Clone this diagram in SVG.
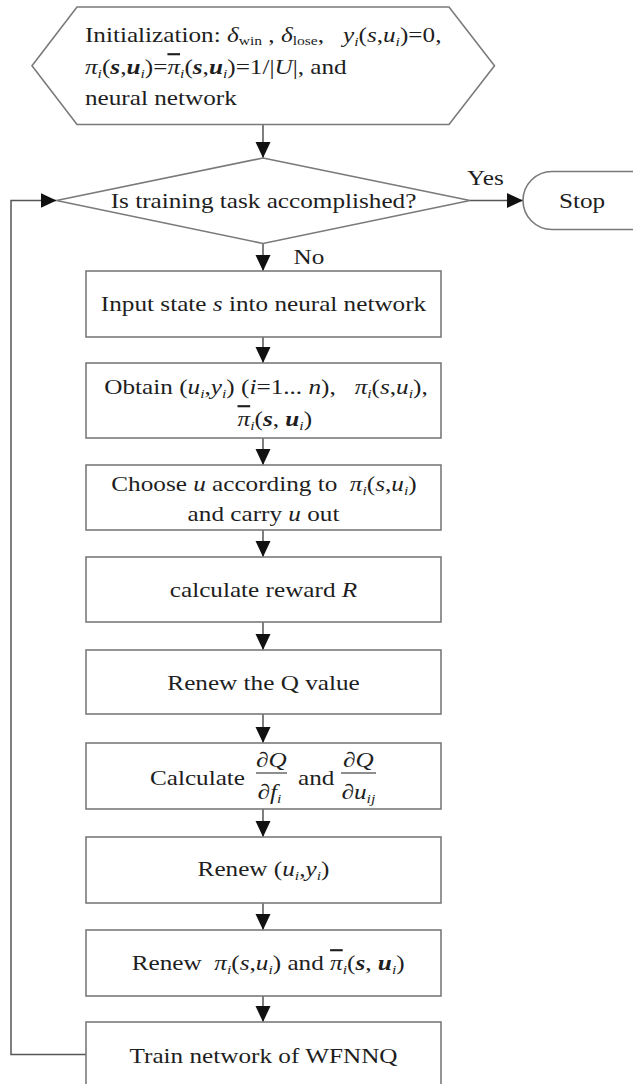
<svg xmlns="http://www.w3.org/2000/svg" width="633" height="1084" viewBox="0 0 633 1084">
<defs>
<style>
.t{font-family:"Liberation Serif","Times New Roman",serif;font-size:21px;fill:#1e1e1e;white-space:pre}
.i{font-style:italic}
.b{font-weight:bold;font-style:italic}
.s{font-size:13px}
.ob{text-decoration:overline}
.node{fill:#fff;stroke:#7a7a7a;stroke-width:1.6}
.conn{fill:none;stroke:#555;stroke-width:1.5}
</style>
<marker id="ah" markerUnits="userSpaceOnUse" markerWidth="18" markerHeight="18" refX="16" refY="7.5" orient="auto">
<path d="M0,0 L16,7.5 L0,15 z" fill="#111"/>
</marker>
</defs>
<rect width="633" height="1084" fill="#fff"/>
<g id="connectors">
<path class="conn" d="M263,124.5 V158" marker-end="url(#ah)"/>
<path class="conn" d="M263,243.5 V271" marker-end="url(#ah)"/>
<path class="conn" d="M470,200.5 H523" marker-end="url(#ah)"/>
<path class="conn" d="M263,337 V363" marker-end="url(#ah)"/>
<path class="conn" d="M263,438 V465" marker-end="url(#ah)"/>
<path class="conn" d="M263,530 V557" marker-end="url(#ah)"/>
<path class="conn" d="M263,622 V650" marker-end="url(#ah)"/>
<path class="conn" d="M263,714 V743" marker-end="url(#ah)"/>
<path class="conn" d="M263,809 V837" marker-end="url(#ah)"/>
<path class="conn" d="M263,903 V930" marker-end="url(#ah)"/>
<path class="conn" d="M263,996 V1022" marker-end="url(#ah)"/>
<path class="conn" d="M86,1054.5 H11 V200.5 H56.5" marker-end="url(#ah)"/>
<text class="t" transform="scale(1.2,1)" x="389.2" y="185">Yes</text>
<text class="t" transform="scale(1.2,1)" x="244.6" y="264">No</text>
</g>
<g id="init">
<polygon class="node" points="32,65.7 77,7 449,7 494.5,65.7 449,124.5 77,124.5"/>
<text class="t" transform="scale(1.2,1)" x="70.8" y="42">Initialization: <tspan class="i">δ</tspan><tspan class="s" dy="3">win</tspan><tspan dy="-3"> , </tspan><tspan class="i">δ</tspan><tspan class="s" dy="3">lose</tspan><tspan dy="-3">,   </tspan><tspan class="i">y</tspan><tspan class="s i" dy="4">i</tspan><tspan dy="-4">(</tspan><tspan class="i">s</tspan>,<tspan class="i">u</tspan><tspan class="s i" dy="4">i</tspan><tspan dy="-4">)=0,</tspan></text>
<text class="t" transform="scale(1.2,1)" x="70.8" y="74"><tspan class="i">π</tspan><tspan class="s i" dy="4">i</tspan><tspan dy="-4">(</tspan><tspan class="b">s</tspan>,<tspan class="b">u</tspan><tspan class="s i" dy="4">i</tspan><tspan dy="-4">)=</tspan><tspan class="i ob">π</tspan><tspan class="s i" dy="4">i</tspan><tspan dy="-4">(</tspan><tspan class="b">s</tspan>,<tspan class="b">u</tspan><tspan class="s i" dy="4">i</tspan><tspan dy="-4">)=1/|</tspan><tspan class="i">U</tspan>|, and</text>
<text class="t" transform="scale(1.2,1)" x="70.8" y="105">neural network</text>
</g>
<g id="decision">
<polygon class="node" points="263,158 470,200.5 263,243.5 56.5,200.5"/>
<text class="t" transform="scale(1.2,1)" x="219.6" y="208" text-anchor="middle">Is training task accomplished?</text>
</g>
<g id="stop">
<rect class="node" x="523" y="171.5" width="140" height="58" rx="29"/>
<text class="t" transform="scale(1.2,1)" x="465.8" y="208">Stop</text>
</g>
<g id="input">
<rect class="node" x="86" y="271" width="355" height="66"/>
<text class="t" transform="scale(1.2,1)" x="219.6" y="311" text-anchor="middle">Input state <tspan class="i">s</tspan> into neural network</text>
</g>
<g id="obtain">
<rect class="node" x="86" y="363" width="355" height="75"/>
<text class="t" transform="scale(1.2,1)" x="221.7" y="394" text-anchor="middle">Obtain (<tspan class="i">u</tspan><tspan class="s i" dy="4">i</tspan><tspan dy="-4">,</tspan><tspan class="i">y</tspan><tspan class="s i" dy="4">i</tspan><tspan dy="-4">) (</tspan><tspan class="i">i</tspan>=1... <tspan class="i">n</tspan>),   <tspan class="i">π</tspan><tspan class="s i" dy="4">i</tspan><tspan dy="-4">(</tspan><tspan class="i">s</tspan>,<tspan class="i">u</tspan><tspan class="s i" dy="4">i</tspan><tspan dy="-4">),</tspan></text>
<text class="t" transform="scale(1.2,1)" x="229" y="426" text-anchor="middle"><tspan class="i ob">π</tspan><tspan class="s i" dy="4">i</tspan><tspan dy="-4">(</tspan><tspan class="b">s</tspan>, <tspan class="b">u</tspan><tspan class="s i" dy="4">i</tspan><tspan dy="-4">)</tspan></text>
</g>
<g id="choose">
<rect class="node" x="86" y="465" width="355" height="65"/>
<text class="t" transform="scale(1.2,1)" x="220" y="491" text-anchor="middle">Choose <tspan class="i">u</tspan> according to  <tspan class="i">π</tspan><tspan class="s i" dy="4">i</tspan><tspan dy="-4">(</tspan><tspan class="i">s</tspan>,<tspan class="i">u</tspan><tspan class="s i" dy="4">i</tspan><tspan dy="-4">)</tspan></text>
<text class="t" transform="scale(1.2,1)" x="219.6" y="521" text-anchor="middle">and carry <tspan class="i">u</tspan> out</text>
</g>
<g id="reward">
<rect class="node" x="86" y="557" width="355" height="65"/>
<text class="t" transform="scale(1.2,1)" x="219.6" y="597" text-anchor="middle">calculate reward <tspan class="i">R</tspan></text>
</g>
<g id="renewq">
<rect class="node" x="86" y="650" width="355" height="64"/>
<text class="t" transform="scale(1.2,1)" x="219.6" y="690" text-anchor="middle">Renew the Q value</text>
</g>
<g id="calc">
<rect class="node" x="86" y="743" width="355" height="66"/>
<text class="t" transform="scale(1.2,1)" x="204.2" y="785" text-anchor="end">Calculate</text>
<text class="t i" transform="scale(1.2,1)" x="226.2" y="767" text-anchor="middle">∂Q</text>
<line x1="256" y1="773" x2="287" y2="773" stroke="#1e1e1e" stroke-width="1"/>
<text class="t i" transform="scale(1.2,1)" x="224.5" y="799" text-anchor="middle">∂f<tspan class="s" dy="4">i</tspan></text>
<text class="t" transform="scale(1.2,1)" x="248.3" y="785">and</text>
<text class="t i" transform="scale(1.2,1)" x="298.7" y="767" text-anchor="middle">∂Q</text>
<line x1="341" y1="773" x2="376" y2="773" stroke="#1e1e1e" stroke-width="1"/>
<text class="t i" transform="scale(1.2,1)" x="298.7" y="799" text-anchor="middle">∂u<tspan class="s" dy="4">ij</tspan></text>
</g>
<g id="renewuy">
<rect class="node" x="86" y="837" width="355" height="66"/>
<text class="t" transform="scale(1.2,1)" x="219.6" y="876" text-anchor="middle">Renew (<tspan class="i">u</tspan><tspan class="s i" dy="4">i</tspan><tspan dy="-4">,</tspan><tspan class="i">y</tspan><tspan class="s i" dy="4">i</tspan><tspan dy="-4">)</tspan></text>
</g>
<g id="renewpi">
<rect class="node" x="86" y="930" width="355" height="66"/>
<text class="t" transform="scale(1.2,1)" x="223.5" y="970" text-anchor="middle">Renew  <tspan class="i">π</tspan><tspan class="s i" dy="4">i</tspan><tspan dy="-4">(</tspan><tspan class="i">s</tspan>,<tspan class="i">u</tspan><tspan class="s i" dy="4">i</tspan><tspan dy="-4">) and </tspan><tspan class="i ob">π</tspan><tspan class="s i" dy="4">i</tspan><tspan dy="-4">(</tspan><tspan class="b">s</tspan>, <tspan class="b">u</tspan><tspan class="s i" dy="4">i</tspan><tspan dy="-4">)</tspan></text>
</g>
<g id="train">
<rect class="node" x="86" y="1022" width="355" height="80"/>
<text class="t" transform="scale(1.2,1)" x="219.6" y="1063" text-anchor="middle">Train network of WFNNQ</text>
</g>
</svg>
